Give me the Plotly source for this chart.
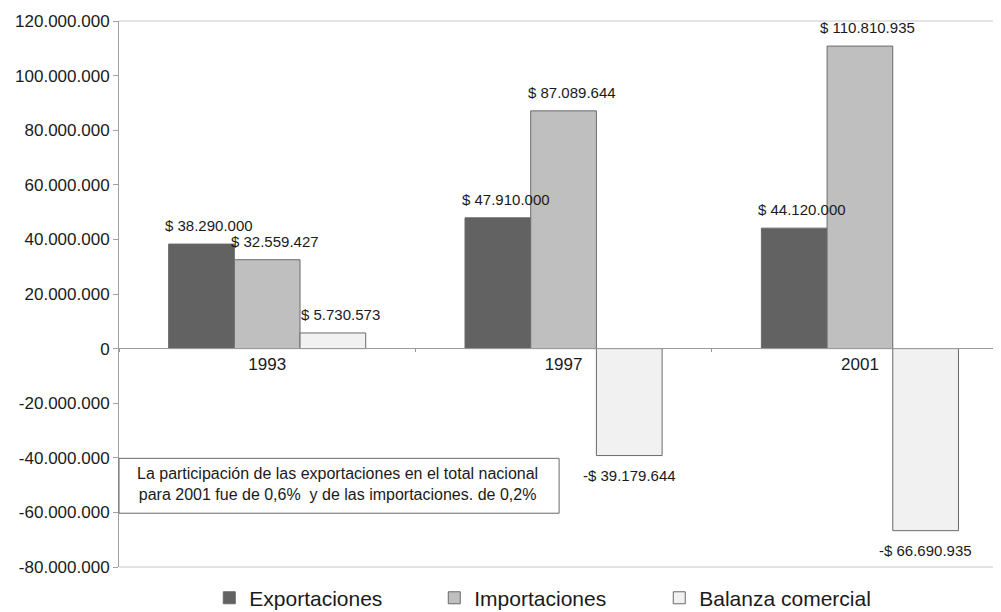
import plotly.graph_objects as go

years = ["1993", "1997", "2001"]
exportaciones = [38290000, 47910000, 44120000]
importaciones = [32559427, 87089644, 110810935]
balanza = [5730573, -39179644, -66690935]

series_names = ["Exportaciones", "Importaciones", "Balanza comercial"]
series_colors = ["#626262", "#bfbfbf", "#f1f1f1"]

y_tickvals = [-80000000, -60000000, -40000000, -20000000, 0, 20000000, 40000000,
              60000000, 80000000, 100000000, 120000000]
y_ticktext = ["-80.000.000", "-60.000.000", "-40.000.000", "-20.000.000", "0",
              "20.000.000", "40.000.000", "60.000.000", "80.000.000",
              "100.000.000", "120.000.000"]

note_text = ("La participación de las exportaciones en el total nacional<br>"
             "para 2001 fue de 0,6%\u00a0 y de las importaciones. de 0,2%")

FONT = "Liberation Sans, Arial, sans-serif"
BARGAP = 0.335


def money(v):
    s = f"{abs(v):,}".replace(",", ".")
    return ("-$ " if v < 0 else "$ ") + s


fig = go.Figure()
all_series = [exportaciones, importaciones, balanza]
for name, vals, color in zip(series_names, all_series, series_colors):
    fig.add_bar(
        x=years, y=vals, name=name,
        marker=dict(color=color, line=dict(color="#6a6a6a", width=1)),
    )

# value labels placed over each bar through the axes
annotations = []
n = len(all_series)
bw = (1 - BARGAP) / n
for si, vals in enumerate(all_series):
    off = (si - (n - 1) / 2) * bw
    for ci, v in enumerate(vals):
        pos = v >= 0
        annotations.append(dict(
            xref="x", yref="y", x=ci + off, y=v,
            text=money(v), showarrow=False,
            xanchor="center", yanchor="bottom" if pos else "top",
            xshift=8 if pos else 0, yshift=8 if pos else -9,
            font=dict(family=FONT, size=15, color="#1a1a1a"),
        ))

annotations.append(dict(
    xref="paper", yref="paper", x=0.248, y=0.152, xanchor="center", yanchor="middle",
    text=note_text, showarrow=False, align="center",
    font=dict(size=16, color="#1a1a1a"),
))

fig.update_layout(
    width=993, height=604,
    paper_bgcolor="white", plot_bgcolor="white",
    barmode="group", bargap=BARGAP, bargroupgap=0,
    margin=dict(l=111, r=0, t=13, b=45, autoexpand=False),
    font=dict(family=FONT, color="#1a1a1a"),
    xaxis=dict(
        type="category", range=[-0.5, 2.476], automargin=False,
        anchor="free", position=0.4004,
        showline=True, linecolor="#9a9a9a", linewidth=1,
        ticks="outside", tickson="boundaries", ticklen=3, tickcolor="#9a9a9a",
        tickfont=dict(size=17, color="#1a1a1a"),
        showgrid=False, zeroline=False,
    ),
    yaxis=dict(
        range=[-80000000, 120000000], automargin=False,
        tickvals=y_tickvals, ticktext=y_ticktext,
        showline=True, linecolor="#a0a0a0", linewidth=1,
        ticks="outside", ticklen=5, tickcolor="#a0a0a0",
        tickfont=dict(size=17, color="#1a1a1a"),
        showgrid=False, zeroline=False,
    ),
    legend=dict(
        orientation="h", x=0.485, xanchor="center", y=-0.057, yanchor="middle",
        font=dict(size=21, color="#1a1a1a"),
        entrywidth=180,
    ),
    shapes=[
        dict(type="line", xref="paper", yref="paper", x0=0, x1=1, y0=1, y1=1,
             line=dict(color="#c8c8c8", width=1)),
        dict(type="line", xref="paper", yref="paper", x0=0, x1=1, y0=0, y1=0,
             line=dict(color="#c8c8c8", width=1)),
        dict(type="rect", xref="paper", yref="paper", x0=0, x1=0.499, y0=0.0985, y1=0.199,
             line=dict(color="#6a6a6a", width=1), fillcolor="white", layer="above"),
    ],
    annotations=annotations,
)

fig.write_html("out.html")
